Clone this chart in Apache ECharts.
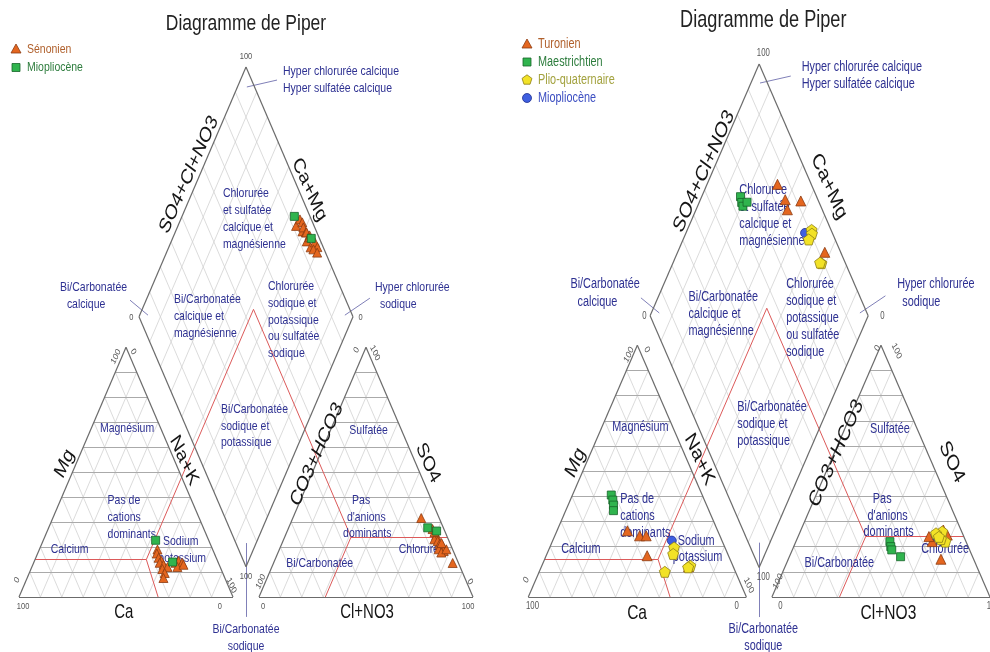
<!DOCTYPE html>
<html lang="fr">
<head>
<meta charset="utf-8">
<title>Diagramme de Piper</title>
<script src="https://cdn.jsdelivr.net/npm/echarts@6.0.0/dist/echarts.min.js"></script>
<style>
  html, body { margin: 0; padding: 0; background: #fff; }
  #chart { width: 990px; height: 652px; }
</style>
</head>
<body>
<div id="chart"></div>
<script>
// ---------- Sample compositions (% meq/l) ----------
// Cations: [Mg, Na+K]   (Ca = 100 - Mg - Na+K)
// Anions:  [SO4, Cl+NO3] (CO3+HCO3 = 100 - SO4 - Cl+NO3)

// Left diagram
const senonienCations = [[19.0,55.2],[17.4,55.7],[15.7,57.4],[14.5,59.3],[13.7,58.9],[12.9,61.1],[11.2,61.4],[12.0,63.4],[9.6,63.3],[7.6,63.7],[13.7,66.3],[14.5,67.3],[13.7,69.4],[12.0,68.0],[12.9,70.4]];
const senonienAnions  = [[31.6,60.0],[27.2,67.5],[24.8,70.4],[23.1,70.4],[22.4,72.3],[21.1,73.8],[19.9,75.3],[20.4,75.6],[19.1,74.4],[18.4,77.1],[17.8,76.3],[19.1,78.0],[13.6,83.7],[26.0,69.0],[21.6,74.5]];
const mioLeftCations  = [[22.7,52.5],[14.0,64.8]];
const mioLeftAnions   = [[27.7,65.0],[26.4,69.8]];

// Right diagram
const turonienCations      = [[26.3,32.3],[24.3,38.9],[24.3,41.9],[16.4,46.3],[12.0,67.5]];
const turonienAnions       = [[22.0,62.5],[15.0,70.0],[24.0,60.0],[26.6,65.3],[24.6,68.1]];
const maestrichtienCations = [[40.5,17.8],[38.5,19.5],[36.5,20.8],[34.3,21.9]];
const maestrichtienAnions  = [[22.0,43.1],[20.0,44.5],[18.7,45.6],[16.0,51.0]];
const plioCations          = [[19.7,57.0],[17.1,57.9],[10.0,57.6],[12.4,68.1],[11.8,67.4]];
const plioAnions           = [[26.0,65.1],[22.0,68.5],[25.3,62.6],[23.0,66.0],[23.9,64.6]];
const mioRightCations      = [[22.4,54.6]];
const mioRightAnions       = [[24.0,63.5]];

// Classification boundaries (% values)
const cationLimits = { mg: 15, nak: 52, nakBase: 65 };
const anionLimits  = { so4: 24, cl: 31 };

const tickMax = '100', tickMin = '0';

// ---------- Geometry helpers (units: triangle side = 100) ----------
const SQ = Math.sqrt(3) / 2;
const TRI_H = 100 * SQ;
const TEXT_STRETCH = 1.3;
const FONT = '"Liberation Sans", Arial, Helvetica, sans-serif';

function makeGeom(gap) {
  return {
    gap,
    xMax: 200 + gap,
    yMax: 2 * TRI_H + gap * SQ,
    cx: 100 + gap / 2,
    cat: (mg, nak) => [nak + mg / 2, mg * SQ],
    an: (so4, cl) => [100 + gap + cl + so4 / 2, so4 * SQ],
    dia: (c, a) => [100 + gap / 2 + 50 * (a - c), gap * SQ + TRI_H * (a + c)]
  };
}

const PENTAGON = 'path://M0,-10L9.51,-3.09L5.88,8.09L-5.88,8.09L-9.51,-3.09Z';
const markers = {
  triangle: { symbol: 'triangle', size: [10, 10], fill: '#e4661f', stroke: '#8c3b12', text: '#b0602c' },
  square:   { symbol: 'rect', size: [8, 8], fill: '#30b44e', stroke: '#16652a', text: '#2e7d3e' },
  pentagon: { symbol: PENTAGON, size: [11, 11], fill: '#f2e227', stroke: '#8d7d15', text: '#a3a23f' },
  circle:   { symbol: 'circle', size: 9, fill: '#3f5fe0', stroke: '#1f2f8f', text: '#3d4fc2' }
};

const diagrams = [
  { gap: 12.15, box: { left: 19, top: 67, width: 454, height: 530 }, titleY: 24,
    legend: { x: 16, y: 49, step: 18.5 },
    groups: [
      { name: 'Sénonien', cations: senonienCations, anions: senonienAnions, marker: 'triangle', size: [9, 9] },
      { name: 'Miopliocène', cations: mioLeftCations, anions: mioLeftAnions, marker: 'square' }
    ] },
  { gap: 11.71, box: { left: 528.3, top: 64, width: 470, height: 533 }, titleY: 20,
    legend: { x: 527, y: 44, step: 18 },
    groups: [
      { name: 'Turonien', cations: turonienCations, anions: turonienAnions, marker: 'triangle' },
      { name: 'Maestrichtien', cations: maestrichtienCations, anions: maestrichtienAnions, marker: 'square' },
      { name: 'Plio-quaternaire', cations: plioCations, anions: plioAnions, marker: 'pentagon' },
      { name: 'Miopliocène', cations: mioRightCations, anions: mioRightAnions, marker: 'circle' }
    ],
    drawOrder: [0, 1, 3, 2] }
];

// Zone names: [anchor, x, y, align, lines]  (anchor c = cation origin, a = anion origin, d = diamond centre)
const zoneLabels = [
  ['d', -10.8, 140.0, 'left', ['Chlorurée', 'et sulfatée', 'calcique et', 'magnésienne']],
  ['d', -33.7, 103.3, 'left', ['Bi/Carbonatée', 'calcique et', 'magnésienne']],
  ['d', 10.3, 107.8, 'left', ['Chlorurée', 'sodique et', 'potassique', 'ou sulfatée', 'sodique']],
  ['d', -11.7, 65.2, 'left', ['Bi/Carbonatée', 'sodique et', 'potassique']],
  ['c', 50.5, 58.6, 'center', ['Magnésium']],
  ['c', 41.4, 33.6, 'left', ['Pas de', 'cations', 'dominants']],
  ['c', 14.8, 16.4, 'left', ['Calcium']],
  ['c', 67.3, 19.4, 'left', ['Sodium']],
  ['c', 65.1, 13.6, 'left', ['potassium']],
  ['a', 51.2, 57.9, 'center', ['Sulfatée']],
  ['a', 43.5, 33.6, 'left', ['Pas']],
  ['a', 41.1, 27.7, 'left', ["d'anions"]],
  ['a', 39.3, 22.2, 'left', ['dominants']],
  ['a', 12.7, 11.8, 'left', ['Bi/Carbonatée']],
  ['a', 65.3, 16.6, 'left', ['Chlorurée']],
  ['d', 17.3, 182.3, 'left', ['Hyper chlorurée calcique', 'Hyper sulfatée calcique']],
  ['d', -86.9, 107.5, 'left', ['Bi/Carbonatée']],
  ['d', -83.7, 101.6, 'left', ['calcique']],
  ['d', 60.3, 107.5, 'left', ['Hyper chlorurée']],
  ['d', 62.6, 101.6, 'left', ['sodique']],
  ['d', 0, -11.1, 'center', ['Bi/Carbonatée', 'sodique']]
];

// Axis names: [anchor, x, y, rotation, text]
const axisTitles = [
  ['c', 49, -5.5, 0, 'Ca'],
  ['c', 21.3, 46.2, 60, 'Mg'],
  ['c', 77.1, 47.3, -60, 'Na+K'],
  ['a', 50.5, -5.5, 0, 'Cl+NO3'],
  ['a', 27.0, 49.4, 60, 'CO3+HCO3'],
  ['a', 79.0, 46.4, -60, 'SO4'],
  ['d', -26.7, 146.4, 60, 'SO4+Cl+NO3'],
  ['d', 29.6, 141.2, -60, 'Ca+Mg']
];

// Axis end values: [anchor, x, y, rotation, text]
const tickLabels = [
  ['c', 45.3, 83.3, 60, tickMax], ['c', 53.4, 85.0, -60, tickMin],
  ['c', -0.9, 5.9, 60, tickMin], ['c', 1.9, -3.3, 0, tickMax],
  ['c', 99.3, 4.0, -60, tickMax], ['c', 93.9, -3.3, 0, tickMin],
  ['a', 45.6, 85.6, 60, tickMin], ['a', 54.2, 84.6, -60, tickMax],
  ['a', 0.8, 5.3, 60, tickMax], ['a', 1.9, -3.3, 0, tickMin],
  ['a', 97.7, -3.3, 0, tickMax], ['a', 98.6, 5.3, -60, tickMin]
];

// Leader lines pointing to diamond corners (relative to diamond centre)
const leaderLines = [
  [[14.5, 179.2], [0.4, 176.8]],
  [[-54.2, 102.9], [-45.8, 97.7]],
  [[57.9, 103.6], [46.2, 97.7]],
  [[0, 18.7], [0, -6.9]]
];

// ---------- Build option ----------
const grids = [], xAxes = [], yAxes = [], series = [], graphics = [];

function groupText(x, y, text, o) {
  const align = o.align || 'center';
  return {
    type: 'group', x, y, scaleY: TEXT_STRETCH, z: o.z || 3, silent: true,
    children: [{
      type: 'text', z: o.z || 3, rotation: (o.rot || 0) * Math.PI / 180,
      style: {
        text, fill: o.color, fontSize: o.size, fontFamily: FONT,
        align, verticalAlign: 'middle', textAlign: align, textVerticalAlign: 'middle'
      }
    }]
  };
}

diagrams.forEach((d, i) => {
  const g = makeGeom(d.gap);
  const sx = d.box.width / g.xMax, sy = d.box.height / g.yMax;
  const fs = sx / 2.14;
  const toPx = (u) => [d.box.left + u[0] * sx, d.box.top + (g.yMax - u[1]) * sy];
  const anchorX = { c: 0, a: 100 + g.gap, d: g.cx };

  grids.push({ left: d.box.left, top: d.box.top, width: d.box.width, height: d.box.height, show: false });
  xAxes.push({ gridIndex: i, type: 'value', min: 0, max: g.xMax, show: false });
  yAxes.push({ gridIndex: i, type: 'value', min: 0, max: g.yMax, show: false });

  const light = [], dark = [], frame = [], red = [], leaders = [];
  for (let t = 10; t < 100; t += 10) {
    dark.push([g.cat(t, 0), g.cat(t, 100 - t)]);
    light.push([g.cat(0, t), g.cat(100 - t, t)]);
    light.push([g.cat(0, 100 - t), g.cat(100 - t, 0)]);
    dark.push([g.an(t, 0), g.an(t, 100 - t)]);
    light.push([g.an(0, t), g.an(100 - t, t)]);
    light.push([g.an(0, 100 - t), g.an(100 - t, 0)]);
    light.push([g.dia(t / 100, 0), g.dia(t / 100, 1)]);
    light.push([g.dia(0, t / 100), g.dia(1, t / 100)]);
  }
  const closed = (pts) => pts.map((p, k) => [p, pts[(k + 1) % pts.length]]);
  frame.push(...closed([g.cat(0, 0), g.cat(100, 0), g.cat(0, 100)]));
  frame.push(...closed([g.an(0, 0), g.an(100, 0), g.an(0, 100)]));
  frame.push(...closed([g.dia(0, 0), g.dia(1, 0), g.dia(1, 1), g.dia(0, 1)]));

  const A = g.cat(cationLimits.mg, cationLimits.nak);
  const Q = g.an(anionLimits.so4, anionLimits.cl);
  const P = g.dia((100 - cationLimits.nak) / 100, (anionLimits.so4 + anionLimits.cl) / 100);
  red.push([g.cat(cationLimits.mg, 0), A], [A, g.cat(0, cationLimits.nakBase)], [A, P], [P, Q],
           [Q, g.an(anionLimits.so4, 100 - anionLimits.so4)], [Q, g.an(0, anionLimits.cl)]);

  leaderLines.forEach(([p, q]) => leaders.push([[g.cx + p[0], p[1]], [g.cx + q[0], q[1]]]));

  const lineSeries = (segs, color, width, z) => ({
    type: 'lines', coordinateSystem: 'cartesian2d', xAxisIndex: i, yAxisIndex: i,
    silent: true, clip: false, z, animation: false,
    lineStyle: { color, width, opacity: 1 },
    data: segs.map(s => ({ coords: s }))
  });
  series.push(lineSeries(light, '#d2d2d2', 0.8, 1));
  series.push(lineSeries(dark, '#aaaaaa', 1, 1));
  series.push(lineSeries(leaders, '#8080b8', 1, 2));
  series.push(lineSeries(red, '#dc5a5a', 1, 2));
  series.push(lineSeries(frame, '#6b6b6b', 1.2, 2));

  // sample points: cation triangle, anion triangle and diamond projection
  const order = d.drawOrder || d.groups.map((_, k) => k);
  order.forEach((k, n) => {
    const grp = d.groups[k];
    const m = markers[grp.marker];
    const pts = [];
    grp.cations.forEach(([mg, nak]) => pts.push(g.cat(mg, nak)));
    grp.anions.forEach(([so4, cl]) => pts.push(g.an(so4, cl)));
    grp.cations.forEach(([mg, nak], j) => {
      const [so4, cl] = grp.anions[j];
      pts.push(g.dia((100 - nak) / 100, (so4 + cl) / 100));
    });
    series.push({
      type: 'scatter', name: grp.name, xAxisIndex: i, yAxisIndex: i, clip: false,
      z: 10 + n, animation: false, silent: true,
      symbol: m.symbol, symbolSize: grp.size || m.size,
      itemStyle: { color: m.fill, borderColor: m.stroke, borderWidth: 0.8, opacity: 1 },
      data: pts
    });
  });

  // title
  graphics.push(groupText(toPx([g.cx, 0])[0], d.titleY, 'Diagramme de Piper',
    { size: 17.5 * fs, color: '#222' }));

  // legend
  d.groups.forEach((grp, k) => {
    const m = markers[grp.marker];
    const x = d.legend.x, y = d.legend.y + k * d.legend.step;
    const style = { fill: m.fill, stroke: m.stroke, lineWidth: 0.8 };
    let shape;
    if (grp.marker === 'triangle') shape = { type: 'polygon', shape: { points: [[x, y - 5], [x + 5, y + 4], [x - 5, y + 4]] }, style };
    else if (grp.marker === 'square') shape = { type: 'rect', shape: { x: x - 4, y: y - 4, width: 8, height: 8 }, style };
    else if (grp.marker === 'circle') shape = { type: 'circle', shape: { cx: x, cy: y, r: 4.5 }, style };
    else {
      const pts = [];
      for (let j = 0; j < 5; j++) {
        const ang = -Math.PI / 2 + j * 2 * Math.PI / 5;
        pts.push([x + 5.2 * Math.cos(ang), y + 5.2 * Math.sin(ang)]);
      }
      shape = { type: 'polygon', shape: { points: pts }, style };
    }
    shape.z = 12; shape.silent = true;
    graphics.push(shape);
    graphics.push(groupText(x + 11, y, grp.name, { size: 10.5 * fs, color: m.text, align: 'left' }));
  });

  // zone names
  const lineGap = 5.85;
  zoneLabels.forEach(([anc, ux, uy, align, lines]) => {
    lines.forEach((txt, j) => {
      const p = toPx([anchorX[anc] + ux, uy - j * lineGap]);
      graphics.push(groupText(p[0], p[1], txt, { size: 10.5 * fs, color: '#2e3192', align }));
    });
  });

  // axis names
  axisTitles.forEach(([anc, ux, uy, rot, txt]) => {
    const p = toPx([anchorX[anc] + ux, uy]);
    graphics.push(groupText(p[0], p[1], txt, { size: (rot ? 16.5 : 15) * fs, color: '#151515', rot }));
  });

  // axis end values
  tickLabels.forEach(([anc, ux, uy, rot, txt]) => {
    const p = toPx([anchorX[anc] + ux, uy]);
    graphics.push(groupText(p[0], p[1], txt, { size: 7.5 * fs, color: '#555', rot }));
  });
  const diaTicks = [
    [g.dia(1, 1), [0, 3.6], tickMax],
    [g.dia(1, 0), [-3.6, 0], tickMin],
    [g.dia(0, 1), [3.6, 0], tickMin],
    [g.dia(0, 0), [0, -3.4], tickMax]
  ];
  diaTicks.forEach(([v, off, txt]) => {
    const p = toPx([v[0] + off[0], v[1] + off[1]]);
    graphics.push(groupText(p[0], p[1], txt, { size: 7.5 * fs, color: '#555' }));
  });
});

const chart = echarts.init(document.getElementById('chart'), null, { renderer: 'canvas' });
chart.setOption({
  backgroundColor: '#ffffff',
  animation: false,
  grid: grids,
  xAxis: xAxes,
  yAxis: yAxes,
  series,
  graphic: { elements: graphics }
});
</script>
</body>
</html>
